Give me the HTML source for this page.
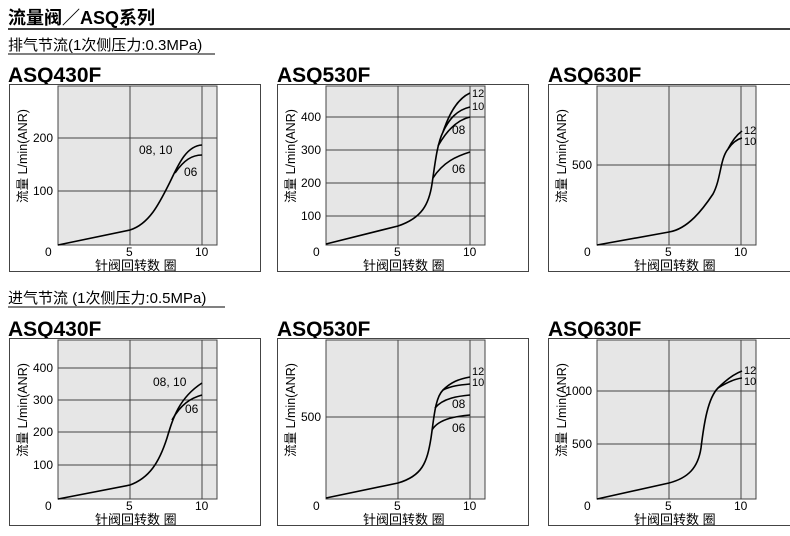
<!DOCTYPE html>
<html><head><meta charset="utf-8"><style>
body{margin:0;background:#fff;width:790px;height:536px;overflow:hidden}
svg{display:block;font-family:"Liberation Sans","Noto Sans CJK SC",sans-serif}
</style></head><body>
<svg width="790" height="536" viewBox="0 0 790 536">
<defs>
<g id="frame" stroke-width="1">
<rect x="0.5" y="0.5" width="251" height="187" fill="#fff" stroke="#444"/>
<rect x="49" y="2" width="159" height="159" fill="#e6e6e6" stroke="#444"/>
<line x1="121" y1="2" x2="121" y2="161" stroke="#444"/>
<line x1="193" y1="2" x2="193" y2="161" stroke="#444"/>
<g fill="#000" stroke="none">
<text x="36" y="172" font-size="12">0</text>
<text x="117" y="172" font-size="12">5</text>
<text x="186" y="172" font-size="12">10</text>
<text x="86" y="186" font-size="13">针阀回转数  圈</text>
<text transform="translate(18,72) rotate(-90)" text-anchor="middle" font-size="12.5">流量 L/min(ANR)</text>
</g>
</g>
</defs>
<g fill="#000">
<text x="8" y="24" font-size="18" font-weight="bold">流量阀／ASQ系列</text>
<line x1="8" y1="29" x2="790" y2="29" stroke="#000" stroke-width="1.5"/>
<text x="8" y="50" font-size="15">排气节流(1次侧压力:0.3MPa)</text>
<line x1="8" y1="54" x2="215" y2="54" stroke="#000"/>
<text x="8" y="82" font-size="21" font-weight="bold">ASQ430F</text>
<text x="277" y="82" font-size="21" font-weight="bold">ASQ530F</text>
<text x="548" y="82" font-size="21" font-weight="bold">ASQ630F</text>
<text x="8" y="303" font-size="15">进气节流 (1次侧压力:0.5MPa)</text>
<line x1="8" y1="307" x2="225" y2="307" stroke="#000"/>
<text x="8" y="336" font-size="21" font-weight="bold">ASQ430F</text>
<text x="277" y="336" font-size="21" font-weight="bold">ASQ530F</text>
<text x="548" y="336" font-size="21" font-weight="bold">ASQ630F</text>
</g>
<g fill="none" stroke="#000" stroke-width="1.6">
<g transform="translate(9,84)">
<use href="#frame"/>
<g stroke="#444" stroke-width="1"><line x1="49" y1="54" x2="208" y2="54"/><line x1="49" y1="107" x2="208" y2="107"/></g>
<g fill="#000" stroke="none" font-size="12" text-anchor="end"><text x="44" y="58">200</text><text x="44" y="111">100</text></g>
<path d="M49,161 L121,146 C140,140 150,120 160,100 C168,84 176,62 193,61"/>
<path d="M166,89 C175,76 183,71 193,71"/>
<text x="130" y="70" font-size="12" fill="#000" stroke="none">08, 10</text>
<text x="175" y="92" font-size="12" fill="#000" stroke="none">06</text>
</g>
<g transform="translate(277,84)">
<use href="#frame"/>
<g stroke="#444" stroke-width="1"><line x1="49" y1="33" x2="208" y2="33"/><line x1="49" y1="66" x2="208" y2="66"/><line x1="49" y1="99" x2="208" y2="99"/><line x1="49" y1="132" x2="208" y2="132"/></g>
<g fill="#000" stroke="none" font-size="12" text-anchor="end"><text x="44" y="37">400</text><text x="44" y="70">300</text><text x="44" y="103">200</text><text x="44" y="136">100</text></g>
<path d="M49,160 L121,142 C145,134 152,120 155,100 C158,80 160,60 166,48 C172,30 180,15 193,9"/>
<path d="M166,48 C172,35 180,26 193,23"/>
<path d="M161,62 C170,46 180,36 193,33"/>
<path d="M156,94 C166,78 180,72 193,68"/>
<text x="195" y="13" font-size="11" fill="#000" stroke="none">12</text>
<text x="195" y="26" font-size="11" fill="#000" stroke="none">10</text>
<text x="175" y="50" font-size="12" fill="#000" stroke="none">08</text>
<text x="175" y="89" font-size="12" fill="#000" stroke="none">06</text>
</g>
<g transform="translate(548,84)">
<use href="#frame"/>
<g stroke="#444" stroke-width="1"><line x1="49" y1="81" x2="208" y2="81"/></g>
<g fill="#000" stroke="none" font-size="12" text-anchor="end"><text x="44" y="85">500</text></g>
<path d="M49,161 L121,148 C140,145 155,125 165,110 C173,95 172,75 180,65 C185,55 190,50 194,47"/>
<path d="M180,65 C185,58 190,55 194,54"/>
<text x="196" y="50" font-size="11" fill="#000" stroke="none">12</text>
<text x="196" y="61" font-size="11" fill="#000" stroke="none">10</text>
</g>
<g transform="translate(9,338)">
<use href="#frame"/>
<g stroke="#444" stroke-width="1"><line x1="49" y1="30" x2="208" y2="30"/><line x1="49" y1="62" x2="208" y2="62"/><line x1="49" y1="94" x2="208" y2="94"/><line x1="49" y1="127" x2="208" y2="127"/></g>
<g fill="#000" stroke="none" font-size="12" text-anchor="end"><text x="44" y="34">400</text><text x="44" y="66">300</text><text x="44" y="98">200</text><text x="44" y="131">100</text></g>
<path d="M49,161 L121,147 C140,140 150,125 158,100 C164,80 170,60 193,45"/>
<path d="M163,82 C172,66 182,60 193,57"/>
<text x="144" y="48" font-size="12" fill="#000" stroke="none">08, 10</text>
<text x="176" y="75" font-size="12" fill="#000" stroke="none">06</text>
</g>
<g transform="translate(277,338)">
<use href="#frame"/>
<g stroke="#444" stroke-width="1"><line x1="49" y1="79" x2="208" y2="79"/></g>
<g fill="#000" stroke="none" font-size="12" text-anchor="end"><text x="44" y="83">500</text></g>
<path d="M49,160 L121,145 C145,138 150,125 154,100 C157,80 158,60 166,52 C174,44 182,41 193,39"/>
<path d="M166,52 C174,48 182,47 193,46"/>
<path d="M158,70 C166,60 182,58 193,57"/>
<path d="M155,92 C162,80 182,78 193,77"/>
<text x="195" y="37" font-size="11" fill="#000" stroke="none">12</text>
<text x="195" y="48" font-size="11" fill="#000" stroke="none">10</text>
<text x="175" y="70" font-size="12" fill="#000" stroke="none">08</text>
<text x="175" y="94" font-size="12" fill="#000" stroke="none">06</text>
</g>
<g transform="translate(548,338)">
<use href="#frame"/>
<g stroke="#444" stroke-width="1"><line x1="49" y1="53" x2="208" y2="53"/><line x1="49" y1="106" x2="208" y2="106"/></g>
<g fill="#000" stroke="none" font-size="12" text-anchor="end"><text x="44" y="57">1000</text><text x="44" y="110">500</text></g>
<path d="M49,161 L121,145 C140,140 150,130 153,110 C156,85 160,60 170,50 C178,42 186,36 194,33"/>
<path d="M170,50 C178,45 186,41 194,40"/>
<text x="196" y="36" font-size="11" fill="#000" stroke="none">12</text>
<text x="196" y="47" font-size="11" fill="#000" stroke="none">10</text>
</g>
</g>
</svg>
</body></html>
